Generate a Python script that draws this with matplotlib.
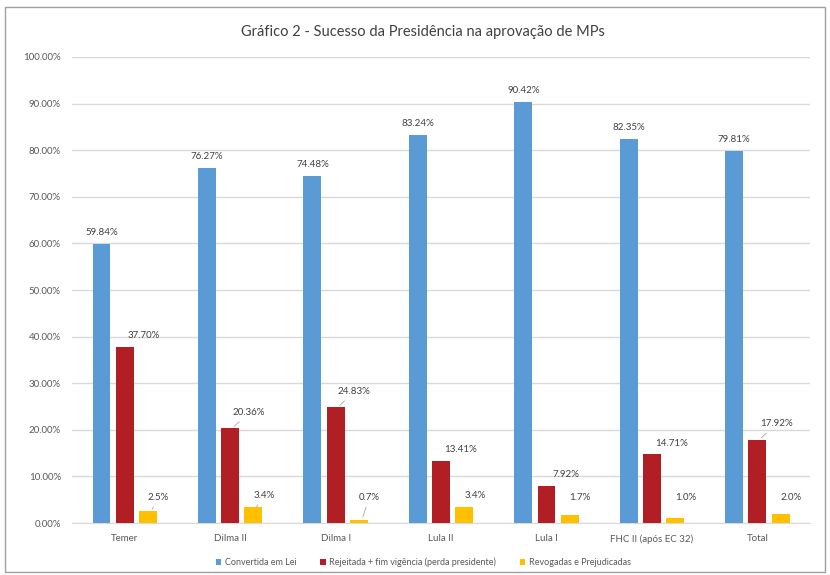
import matplotlib.pyplot as plt
import matplotlib.patches as mpatches
import numpy as np

plt.rcParams['font.family'] = ['Lato', 'DejaVu Sans']

categorias = ['Temer', 'Dilma II', 'Dilma I', 'Lula II', 'Lula I', 'FHC II (após EC 32)', 'Total']
convertida = [59.84, 76.27, 74.48, 83.24, 90.42, 82.35, 79.81]
rejeitada = [37.70, 20.36, 24.83, 13.41, 7.92, 14.71, 17.92]
revogadas = [2.5, 3.4, 0.7, 3.4, 1.7, 1.0, 2.0]
series_nomes = ['Convertida em Lei', 'Rejeitada + fim vigência (perda presidente)',
                'Revogadas e Prejudicadas']

azul = '#5B9BD5'
vermelho = '#B11F24'
amarelo = '#FFC000'
cinza_txt = '#595959'

fig = plt.figure(figsize=(8.3, 5.75), dpi=100)
ax = fig.add_axes([0.0867, 0.0904, 0.8893, 0.8105])

x = np.arange(len(categorias))
w = 0.17
step = 0.22

b1 = ax.bar(x - step, convertida, w, color=azul, label=series_nomes[0], zorder=3)
b2 = ax.bar(x, rejeitada, w, color=vermelho, label=series_nomes[1], zorder=3)
b3 = ax.bar(x + step, revogadas, w, color=amarelo, label=series_nomes[2], zorder=3)

lbl = dict(fontsize=7, color='#404040', zorder=4)
line = dict(arrowstyle='-', color='#A6A6A6', lw=0.6)

for i in range(len(categorias)):
    ax.annotate(f'{convertida[i]:.2f}%', (x[i] - step, convertida[i]),
                xytext=(0, 5), textcoords='offset points', ha='center', va='bottom', **lbl)
    # red labels sit up and to the right, some with a leader line
    if i in (1, 2, 6):
        ax.annotate(f'{rejeitada[i]:.2f}%', (x[i] + 0.02, rejeitada[i]),
                    xytext=(12, 8), textcoords='offset points', ha='center', va='bottom',
                    arrowprops=line, **lbl)
    else:
        ax.annotate(f'{rejeitada[i]:.2f}%', (x[i], rejeitada[i]),
                    xytext=(14, 5), textcoords='offset points', ha='center', va='bottom', **lbl)
    ytxt = max(revogadas[i] + 1.6, 4.6)
    ax.annotate(f'{revogadas[i]:.1f}%', (x[i] + step + 0.03, revogadas[i]),
                xytext=(x[i] + step + 0.1, ytxt), textcoords='data', ha='center', va='bottom',
                arrowprops=line if i in (0, 1, 2) else None, **lbl)

ax.set_xlim(-0.5, len(categorias) - 0.5)
ax.set_ylim(0, 100)
ax.set_yticks(np.arange(0, 101, 10))
ax.set_yticklabels([f'{v:.2f}%' for v in np.arange(0, 101, 10)])
ax.set_xticks(x)
ax.set_xticklabels(categorias)
ax.tick_params(axis='both', length=0, labelsize=7, colors=cinza_txt)
ax.tick_params(axis='y', pad=8)
ax.tick_params(axis='x', pad=8)
ax.grid(axis='y', color='#D9D9D9', lw=1, zorder=0)
for s in ['top', 'right', 'left']:
    ax.spines[s].set_visible(False)
ax.spines['bottom'].set_color('#D9D9D9')

fig.text(0.51, 0.945, 'Gráfico 2 - Sucesso da Presidência na aprovação de MPs',
         ha='center', va='center', fontsize=10.5, color='#404040')

fig.legend(loc='lower center', bbox_to_anchor=(0.51, 0.0), ncol=3, frameon=False,
           fontsize=6.5, handlelength=0.6, handleheight=0.6, handletextpad=0.4,
           columnspacing=2.6, labelcolor=cinza_txt)

fig.patches.append(mpatches.Rectangle((0.006, 0.006), 0.988, 0.982, transform=fig.transFigure,
                                      fill=False, edgecolor='#A0A0A0', lw=1))

fig.savefig('out.png', dpi=100)
